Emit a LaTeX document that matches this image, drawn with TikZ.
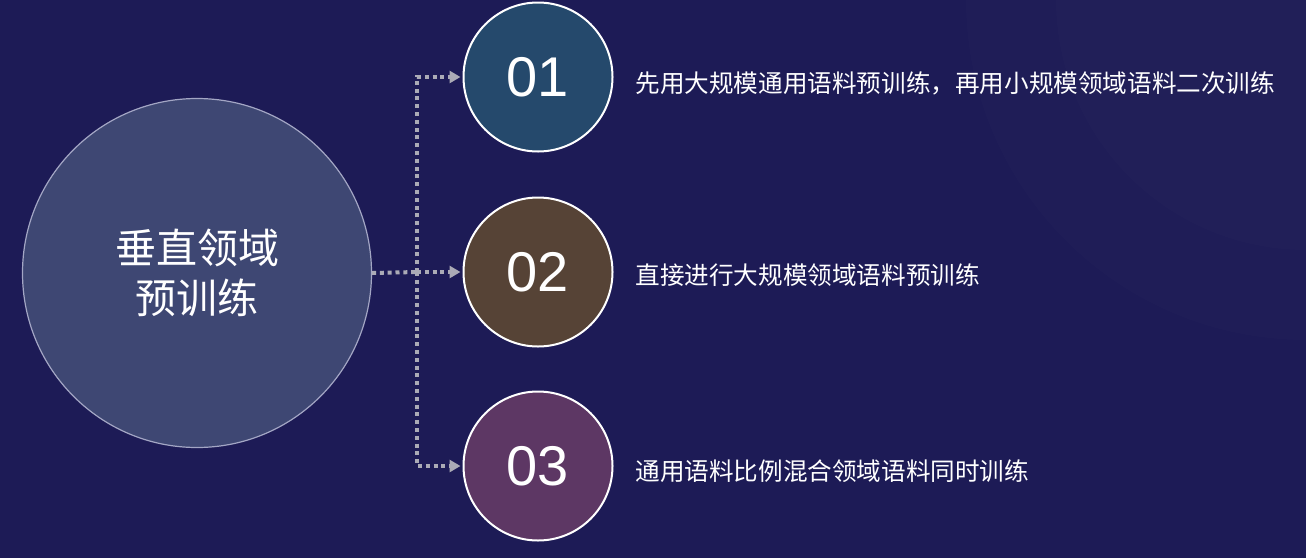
\documentclass[tikz,border=0pt]{standalone}
\usepackage{fontspec}
\setmainfont{Liberation Sans}
\newfontfamily\cjk{Noto Sans CJK SC}
\usetikzlibrary{arrows.meta}
\definecolor{bgblue}{HTML}{1D1B56}
\definecolor{mainfill}{HTML}{3E4773}
\definecolor{mainline}{HTML}{A3A6C4}
\definecolor{onefill}{HTML}{25496C}
\definecolor{twofill}{HTML}{564336}
\definecolor{threefill}{HTML}{5D3764}
\definecolor{dotgray}{HTML}{ABABB6}
\tikzset{
  numcircle/.style={circle, draw=white, line width=1pt, minimum size=74.5pt, inner sep=0pt,
    text=white, font=\fontsize{28}{28}\selectfont},
  desc/.style={anchor=west, text=white, inner sep=0pt, font=\cjk\fontsize{12.3}{15}\selectfont},
  dotline/.style={draw=dotgray, line width=2pt, dash pattern=on 2pt off 1.9pt}
}

\begin{document}
\begin{tikzpicture}[x=0.5pt, y=-0.5pt, >={Triangle[length=5.5pt, width=6pt]}]
%	\draw [help lines] (0,0) grid (1306,558);
	\fill [bgblue] (0,0) rectangle (1306,558);
	\useasboundingbox (0,0) rectangle (1306,558);
	\fill [white, opacity=0.012] (1306,0) circle (340);
	\fill [white, opacity=0.012] (1306,0) circle (250);
	\node [circle, fill=mainfill, draw=mainline, line width=0.6pt, minimum size=174.5pt, inner sep=0pt,
		text=white, align=center, font=\cjk\fontsize{20.5}{25}\selectfont] (main) at (197,273) {垂直领域\\预训练};
	\node [numcircle, fill=onefill] (c1) at (538,77) {01};
	\node [numcircle, fill=twofill] (c2) at (538,272) {02};
	\node [numcircle, fill=threefill] (c3) at (538,466) {03};
	\coordinate (j) at (417,272);
	\draw [dotline] (main.east) -- (j);
	\draw [dotline, ->, shorten >=1pt] (j) |- (c1);
	\draw [dotline, ->, shorten >=1pt] (j) -- (c2);
	\draw [dotline, ->, shorten >=1pt] (j) |- (c3);
	\node [desc] (t1) at (635,83) {先用大规模通用语料预训练，再用小规模领域语料二次训练};
	\node [desc] (t2) at (635,275) {直接进行大规模领域语料预训练};
	\node [desc] (t3) at (635,471) {通用语料比例混合领域语料同时训练};
\end{tikzpicture}
\end{document}
